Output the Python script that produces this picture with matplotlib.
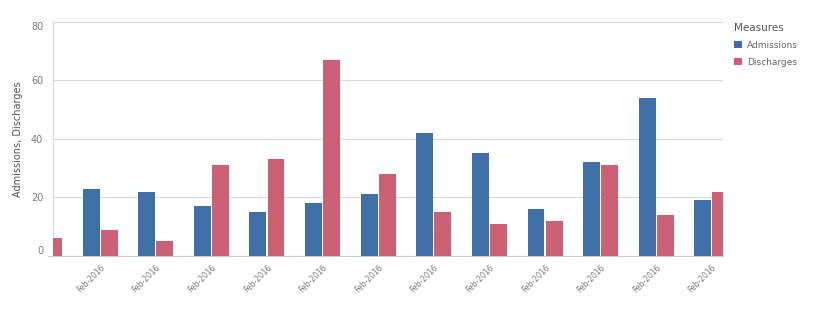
import matplotlib
matplotlib.use("Agg")
import matplotlib.pyplot as plt
import numpy as np

categories = ["Feb-2016"] * 13
admissions = [np.nan, 23, 22, 17, 15, 18, 21, 42, 35, 16, 32, 54, 19]
discharges = [6, 9, 5, 31, 33, 67, 28, 15, 11, 12, 31, 14, 22]
yticks = [0, 20, 40, 60, 80]

BLUE = "#3e6fa7"
RED = "#cc6176"
GRID = "#d9d9d9"
TXT = "#7a7a7a"

fig = plt.figure(figsize=(8.19, 3.09), dpi=100)
ax = fig.add_axes([0.0647, 0.1715, 0.8181, 0.7583])

x = np.arange(len(categories))
w = 0.305
ax.bar(x - w / 2 - 0.01, admissions, width=w, color=BLUE, label="Admissions", zorder=3)
ax.bar(x + w / 2 + 0.01, discharges, width=w, color=RED, label="Discharges", zorder=3)

ax.set_xlim(0.153, 12.2)
ax.set_ylim(0, 80)
ax.set_yticks(yticks)
ax.set_yticklabels([str(t) for t in yticks], fontsize=7, color=TXT)
for lbl, t in zip(ax.get_yticklabels(), yticks):
    if t == 80:
        lbl.set_va("top")
    elif t == 0:
        lbl.set_va("bottom")
ax.tick_params(axis="y", length=0, pad=7)
ax.grid(axis="y", color=GRID, linewidth=0.8, zorder=0)

ax.set_xticks(x[1:])
ax.set_xticklabels(categories[1:], rotation=45, ha="right", rotation_mode="anchor",
                   fontsize=5.5, color=TXT)
ax.tick_params(axis="x", length=0, pad=5)

for s in ["top", "right"]:
    ax.spines[s].set_visible(False)
ax.spines["left"].set_color(GRID)
ax.spines["bottom"].set_color("#c8c8c8")
ax.spines["left"].set_linewidth(0.8)
ax.spines["bottom"].set_linewidth(0.8)
ax.plot([-0.008, 0], [0, 0], transform=ax.transAxes, color="#c8c8c8",
        linewidth=0.8, clip_on=False)

ax.set_ylabel("Admissions, Discharges", fontsize=7, color="#555555", labelpad=6)

leg = ax.legend(loc="upper left", bbox_to_anchor=(1.005, 1.03), frameon=False,
                title="Measures", fontsize=6.5, title_fontsize=7.5,
                handlelength=0.8, handleheight=0.8, handletextpad=0.6,
                labelspacing=0.9, alignment="left")
leg.get_title().set_color("#555555")
for t in leg.get_texts():
    t.set_color("#666666")

fig.savefig("out.png", dpi=100)
